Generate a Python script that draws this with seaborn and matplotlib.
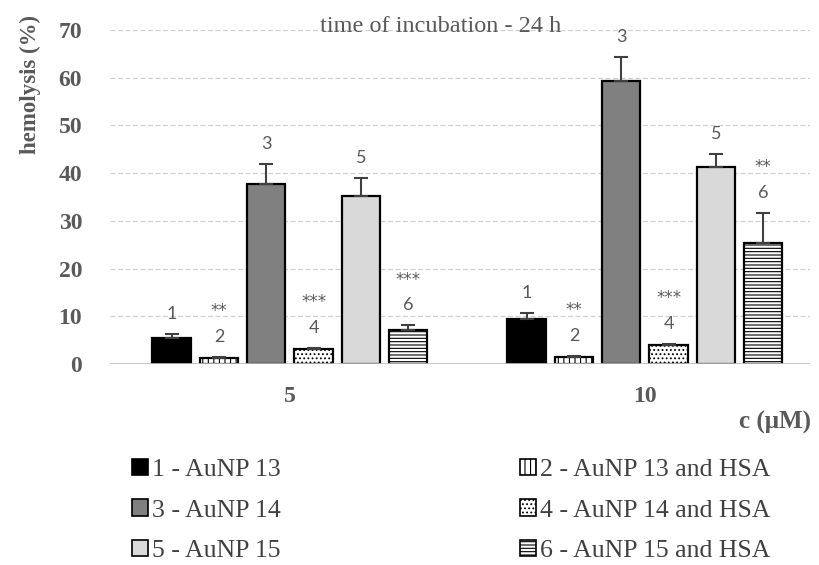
import numpy as np
import pandas as pd
import matplotlib
matplotlib.use("Agg")
import matplotlib.pyplot as plt
import matplotlib.transforms as mtransforms
import seaborn as sns

concentrations = ["5", "10"]
series = ["1 - AuNP 13", "2 - AuNP 13 and HSA", "3 - AuNP 14",
          "4 - AuNP 14 and HSA", "5 - AuNP 15", "6 - AuNP 15 and HSA"]
numbers = ["1", "2", "3", "4", "5", "6"]
values_5 = [5.4, 1.3, 37.8, 3.1, 35.2, 7.1]
values_10 = [9.4, 1.4, 59.3, 4.05, 41.2, 25.3]
errors_5 = [0.9, 0.25, 4.1, 0.2, 3.7, 1.0]
errors_10 = [1.2, 0.3, 5.1, 0.1, 2.9, 6.3]
stars_5 = ["", "**", "", "***", "", "***"]
stars_10 = ["", "**", "", "***", "", "**"]
yticks = [0, 10, 20, 30, 40, 50, 60, 70]

colors = ["#000000", "#ffffff", "#808080", "#ffffff", "#d9d9d9", "#ffffff"]
hatches = ["", "|||", "", "....", "", "-----"]

df = pd.DataFrame({
    "conc": [c for c in concentrations for _ in series],
    "series": series * 2,
    "value": values_5 + values_10,
    "err": errors_5 + errors_10,
})

sns.set_style("white")
plt.rcParams["hatch.linewidth"] = 0.8
fig = plt.figure(figsize=(8.19, 5.65), dpi=100)
ax = fig.add_axes([110 / 819, 1 - 364 / 565, 700 / 819, 334 / 565])

sns.barplot(data=df, x="conc", y="value", hue="series", order=concentrations,
            hue_order=series, palette=colors, edgecolor="black", linewidth=1.6,
            width=0.8, gap=0.19, errorbar=None, ax=ax, zorder=3, legend=True)

gray = "#595959"
for i, s in enumerate(series):
    for j, c in enumerate(concentrations):
        p = ax.containers[i][j]
        p.set_hatch(hatches[i])
        x = p.get_x() + p.get_width() / 2
        row = df[(df.conc == c) & (df.series == s)].iloc[0]
        ax.errorbar([x], [row.value], yerr=[[0], [row.err]], fmt="none",
                    ecolor="#404040", elinewidth=1.5, capsize=5, capthick=1.5, zorder=4)
        top = row.value + row.err
        ax.text(x, top + 4.2, numbers[i], ha="center", va="center",
                fontsize=13, color=gray, family="Lato")
        st = (stars_5 if c == "5" else stars_10)[i]
        if st:
            ax.text(x, top + 9.6, st, ha="center", va="center",
                    fontsize=12, color=gray, family="DejaVu Sans")

ax.set_ylim(0, 70)
ax.set_xlim(-0.507, 1.465)
ax.set_yticks(yticks)
ax.yaxis.grid(True, linestyle=(0, (4, 2)), color="#d0d0d0", linewidth=0.9, zorder=0)
ax.axhline(0, color="#bfbfbf", linewidth=1.2, zorder=5)
for sp in ax.spines.values():
    sp.set_visible(False)
ax.tick_params(axis="both", length=0)
ax.set_yticklabels([str(t) for t in yticks], family="Liberation Serif",
                   fontweight="bold", fontsize=17, color=gray)
ax.tick_params(axis="y", pad=20)
ax.set_xticklabels(concentrations, family="Liberation Serif",
                   fontweight="bold", fontsize=17, color=gray)
ax.tick_params(axis="x", pad=15.5)
ax.set_xlabel("")
ax.set_ylabel("")

fig.text(30 / 819, 1 - 84 / 565, "hemolysis (%)", rotation=90, ha="center", va="center",
         family="Liberation Serif", fontweight="bold", fontsize=16.5, color=gray)

blend = mtransforms.blended_transform_factory(ax.transAxes, ax.transData)
ax.text(0.473, 69.5, "time of incubation - 24 h", ha="center", va="baseline",
        family="Liberation Serif", fontsize=17.5, color=gray, transform=blend)

fig.text(775 / 819, 1 - 422 / 565, "c (μM)", ha="center", va="center",
         family="Liberation Serif", fontweight="bold", fontsize=18, color=gray)

handles, labels = ax.get_legend_handles_labels()
ax.get_legend().remove()
order = [0, 2, 4, 1, 3, 5]
leg = fig.legend([handles[k] for k in order], [labels[k] for k in order],
                 loc="upper left", bbox_to_anchor=(109 / 819, 1 - 436 / 565),
                 ncol=2, frameon=False, handlelength=0.62, handleheight=0.6,
                 handletextpad=0.16, columnspacing=9.3, labelspacing=0.7,
                 prop={"family": "Liberation Serif", "size": 18.5})
for t in leg.get_texts():
    t.set_color("#404040")
for k, h in zip(order, leg.legend_handles):
    h.set_linewidth(1.2)
    h.set_hatch(hatches[k])

fig.savefig("out.png", dpi=100, facecolor="white")
